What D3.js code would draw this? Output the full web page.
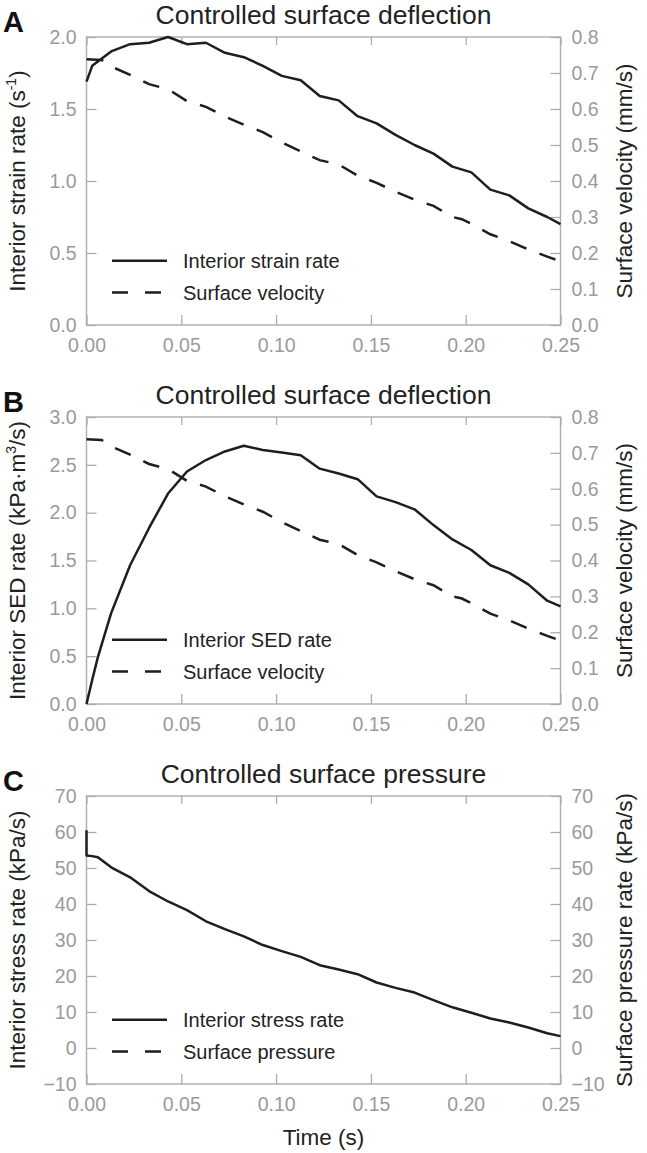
<!DOCTYPE html>
<html><head><meta charset="utf-8">
<script src="https://cdn.jsdelivr.net/npm/d3@7"></script>
<style>
body{margin:0;background:#fff}
svg{display:block}
text{font-family:"Liberation Sans",Arial,Helvetica,sans-serif}
</style></head>
<body><svg id="c" width="647" height="1153"></svg>
<script>
// ---- data ----
const xTicks = [0, 0.05, 0.10, 0.15, 0.20, 0.25];
const ticksA = [0, 0.5, 1.0, 1.5, 2.0];
const ticksB = [0, 0.5, 1.0, 1.5, 2.0, 2.5, 3.0];
const ticksVel = [0, 0.1, 0.2, 0.3, 0.4, 0.5, 0.6, 0.7, 0.8];
const ticksC = [-10, 0, 10, 20, 30, 40, 50, 60, 70];

const timeStrain = [0, 0.003, 0.013, 0.023, 0.033, 0.043, 0.053, 0.063, 0.073, 0.083, 0.093, 0.103, 0.113, 0.123, 0.133, 0.143, 0.153, 0.163, 0.173, 0.183, 0.193, 0.203, 0.213, 0.223, 0.233, 0.243, 0.25];
const strainRate = [1.69, 1.80, 1.90, 1.95, 1.96, 2.00, 1.95, 1.96, 1.89, 1.86, 1.80, 1.73, 1.70, 1.59, 1.56, 1.45, 1.40, 1.32, 1.25, 1.19, 1.10, 1.06, 0.94, 0.90, 0.81, 0.75, 0.70];

const timeVel = [0, 0.008, 0.013, 0.023, 0.033, 0.043, 0.053, 0.063, 0.073, 0.083, 0.093, 0.103, 0.113, 0.123, 0.133, 0.143, 0.153, 0.163, 0.173, 0.183, 0.193, 0.198, 0.203, 0.213, 0.223, 0.233, 0.243, 0.25];
const surfaceVelocity = [0.738, 0.736, 0.718, 0.695, 0.669, 0.655, 0.622, 0.606, 0.579, 0.556, 0.536, 0.507, 0.482, 0.458, 0.446, 0.415, 0.395, 0.370, 0.348, 0.331, 0.300, 0.294, 0.281, 0.252, 0.233, 0.210, 0.190, 0.177];

const timeSED = [0, 0.003, 0.006, 0.013, 0.023, 0.033, 0.043, 0.053, 0.063, 0.073, 0.083, 0.093, 0.103, 0.113, 0.123, 0.133, 0.143, 0.153, 0.163, 0.173, 0.183, 0.193, 0.203, 0.213, 0.223, 0.233, 0.243, 0.25];
const sedRate = [0, 0.25, 0.49, 0.95, 1.45, 1.84, 2.20, 2.43, 2.55, 2.64, 2.70, 2.655, 2.63, 2.60, 2.46, 2.41, 2.35, 2.17, 2.11, 2.035, 1.87, 1.72, 1.61, 1.45, 1.37, 1.25, 1.08, 1.02];

const timeStress = [0, 0, 0.003, 0.006, 0.013, 0.023, 0.033, 0.043, 0.053, 0.063, 0.073, 0.083, 0.093, 0.103, 0.113, 0.123, 0.133, 0.143, 0.153, 0.163, 0.173, 0.183, 0.193, 0.203, 0.213, 0.223, 0.233, 0.243, 0.25];
const stressRate = [60.5, 53.5, 53.3, 53.0, 50.2, 47.4, 43.6, 40.7, 38.3, 35.2, 33.0, 31.0, 28.6, 26.9, 25.3, 23.0, 21.8, 20.5, 18.2, 16.7, 15.4, 13.3, 11.3, 9.8, 8.2, 7.1, 5.7, 4.1, 3.3];

const timePressure = [];
const surfacePressure = [];

// ---- layout ----
const svg = d3.select("#c");
const X0 = 86.5, X1 = 560.5;
const INK = "#1e1e1e", FRAME = "#adadad", TICKTXT = "#9a9a9a";

const panels = [
  {letter:"A", title:"Controlled surface deflection", top:37, bottom:325,
   lDomain:[0,2], lTicks:ticksA, lFmt:d3.format(".1f"), rDomain:[0,0.8], rTicks:ticksVel, rFmt:d3.format(".1f"),
   lLabel:["Interior strain rate (s","-1",")"], rLabel:"Surface velocity (mm/s)",
   solid:{t:timeStrain, v:strainRate, axis:"l"}, dashed:{t:timeVel, v:surfaceVelocity, axis:"r"},
   legend:["Interior strain rate","Surface velocity"], xlabel:false},
  {letter:"B", title:"Controlled surface deflection", top:417, bottom:704,
   lDomain:[0,3], lTicks:ticksB, lFmt:d3.format(".1f"), rDomain:[0,0.8], rTicks:ticksVel, rFmt:d3.format(".1f"),
   lLabel:["Interior SED rate (kPa\u00b7m","3","/s)"], rLabel:"Surface velocity (mm/s)",
   solid:{t:timeSED, v:sedRate, axis:"l"}, dashed:{t:timeVel, v:surfaceVelocity, axis:"r"},
   legend:["Interior SED rate","Surface velocity"], xlabel:false},
  {letter:"C", title:"Controlled surface pressure", top:796, bottom:1084,
   lDomain:[-10,70], lTicks:ticksC, lFmt:d3.format("d"), rDomain:[-10,70], rTicks:ticksC, rFmt:d3.format("d"),
   lLabel:["Interior stress rate (kPa/s)"], rLabel:"Surface pressure rate (kPa/s)",
   solid:{t:timeStress, v:stressRate, axis:"l"}, dashed:{t:timePressure, v:surfacePressure, axis:"r"},
   legend:["Interior stress rate","Surface pressure"], xlabel:true}
];

const x = d3.scaleLinear().domain([0,0.25]).range([X0,X1]);

function styleAxis(g){
  g.select(".domain").remove();
  g.selectAll(".tick line").attr("stroke",FRAME).attr("stroke-width",1.3);
  g.selectAll(".tick text").attr("fill",TICKTXT).attr("font-size",19.5)
   .attr("font-family","'Liberation Sans',Arial,Helvetica,sans-serif");
}

panels.forEach(p => {
  const yl = d3.scaleLinear().domain(p.lDomain).range([p.bottom,p.top]);
  const yr = d3.scaleLinear().domain(p.rDomain).range([p.bottom,p.top]);
  const g = svg.append("g");
  const midY = (p.top+p.bottom)/2;

  g.append("g").attr("transform",`translate(0,${p.bottom})`)
    .call(d3.axisBottom(x).tickValues(xTicks).tickSize(-10).tickPadding(13).tickFormat(d3.format(".2f")))
    .call(styleAxis);
  g.append("g").attr("transform",`translate(0,${p.top})`)
    .call(d3.axisTop(x).tickValues(xTicks).tickSize(-8).tickFormat(""))
    .call(styleAxis);
  g.append("g").attr("transform",`translate(${X0},0)`)
    .call(d3.axisLeft(yl).tickValues(p.lTicks).tickSize(-10).tickPadding(10).tickFormat(p.lFmt))
    .call(styleAxis);
  g.append("g").attr("transform",`translate(${X1},0)`)
    .call(d3.axisRight(yr).tickValues(p.rTicks).tickSize(-10).tickPadding(11).tickFormat(p.rFmt))
    .call(styleAxis);

  g.append("rect").attr("x",X0).attr("y",p.top).attr("width",X1-X0).attr("height",p.bottom-p.top)
    .attr("fill","none").attr("stroke",FRAME).attr("stroke-width",1.4);

  const mk = (s) => {
    const ys = s.axis==="l" ? yl : yr;
    return d3.line().x(i => x(s.t[i])).y(i => ys(s.v[i]))(d3.range(s.v.length));
  };
  if (p.dashed.v.length) g.append("path").attr("d",mk(p.dashed)).attr("fill","none").attr("stroke",INK)
    .attr("stroke-width",2.5).attr("stroke-dasharray","17,14");
  g.append("path").attr("d",mk(p.solid)).attr("fill","none").attr("stroke",INK)
    .attr("stroke-width",2.5).attr("stroke-linejoin","round");

  g.append("text").attr("x",(X0+X1)/2).attr("y",p.top-13).attr("text-anchor","middle")
    .attr("font-size",26.5).attr("fill","#222").text(p.title);
  g.append("text").attr("x",3).attr("y",p.top-5).attr("font-size",29).attr("font-weight","bold")
    .attr("fill","#111").text(p.letter);

  const tl = g.append("text").attr("transform",`translate(25,${midY}) rotate(-90)`)
    .attr("text-anchor","middle").attr("font-size",22.5).attr("fill","#222");
  tl.append("tspan").text(p.lLabel[0]);
  if (p.lLabel.length>1){
    tl.append("tspan").attr("dy",-9).attr("font-size",14).text(p.lLabel[1]);
    tl.append("tspan").attr("dy",9).text(p.lLabel[2]);
  }
  g.append("text").attr("transform",`translate(632,${midY}) rotate(-90)`)
    .attr("text-anchor","middle").attr("font-size",22.5).attr("fill","#222").text(p.rLabel);

  const ly = [p.bottom-64.3, p.bottom-32.5];
  ly.forEach((yy,i)=>{
    g.append("line").attr("x1",112).attr("x2",167).attr("y1",yy).attr("y2",yy)
      .attr("stroke",INK).attr("stroke-width",2.5)
      .attr("stroke-dasharray", i===1 ? "16,17" : null);
    g.append("text").attr("x",183).attr("y",yy+7.5).attr("font-size",20).attr("fill","#222").text(p.legend[i]);
  });

  if (p.xlabel){
    g.append("text").attr("x",(X0+X1)/2).attr("y",p.bottom+61).attr("text-anchor","middle")
      .attr("font-size",22.5).attr("fill","#222").text("Time (s)");
  }
});
</script>
</body></html>
